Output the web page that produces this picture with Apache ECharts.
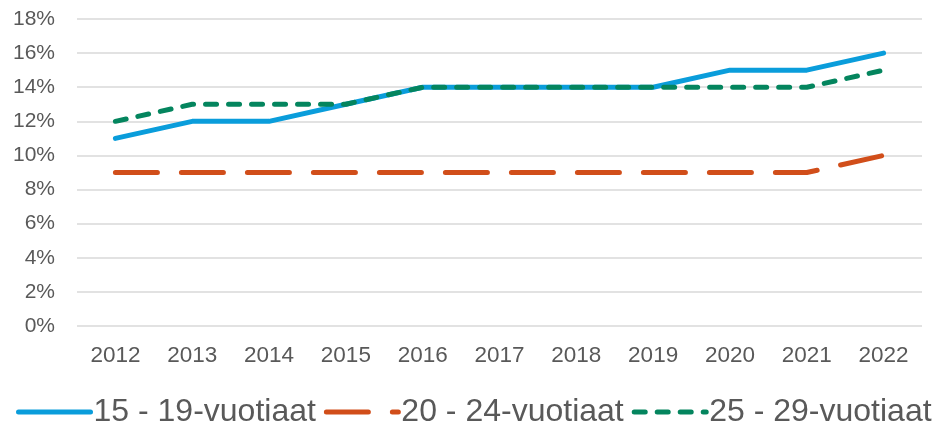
<!DOCTYPE html>
<html>
<head>
<meta charset="utf-8">
<script src="https://cdn.jsdelivr.net/npm/echarts@6/dist/echarts.min.js"></script>
<style>
    html, body { margin: 0; padding: 0; background: #fff; }
    #main { width: 936px; height: 426px; }
</style>
</head>
<body>
<div id="main"></div>
<script>
// vuodet ja arvot (%)
var years = ['2012', '2013', '2014', '2015', '2016', '2017', '2018', '2019', '2020', '2021', '2022'];
var names = ['15 - 19-vuotiaat', '20 - 24-vuotiaat', '25 - 29-vuotiaat'];
var age15_19 = [11, 12, 12, 13, 14, 14, 14, 14, 15, 15, 16];
var age20_24 = [9, 9, 9, 9, 9, 9, 9, 9, 9, 9, 10];
var age25_29 = [12, 13, 13, 13, 14, 14, 14, 14, 14, 14, 15];
var yTicks = { min: 0, max: 18, step: 2 };

var chart = echarts.init(document.getElementById('main'));
var option = {
    animation: false,
    textStyle: { fontFamily: 'Liberation Sans, Arial, sans-serif' },
    grid: { left: 77, right: 14, top: 19, bottom: 100 },
    legend: {
        left: 16,
        width: 920,
        bottom: -2,
        padding: 0,
        itemWidth: 72,
        itemHeight: 10,
        itemGap: 8,
        itemStyle: { opacity: 0 },
        lineStyle: { width: 5, cap: 'round' },
        textStyle: { fontSize: 32, color: '#595959', padding: [0, 0, 0, -2] },
        data: names
    },
    xAxis: {
        type: 'category',
        data: years,
        boundaryGap: true,
        axisLine: { show: false },
        axisTick: { show: false },
        axisLabel: { fontSize: 22.5, color: '#595959', margin: 18 }
    },
    yAxis: {
        type: 'value',
        min: yTicks.min,
        max: yTicks.max,
        interval: yTicks.step,
        axisLabel: { fontSize: 21, color: '#595959', margin: 22, formatter: '{value}%' },
        splitLine: { lineStyle: { color: '#d9d9d9', width: 1.5 } }
    },
    series: [{
        name: names[0],
        type: 'line',
        symbol: 'none',
        data: age15_19,
        color: '#0a9ddb',
        lineStyle: { width: 5, cap: 'round', color: '#0a9ddb' },
        z: 2
    }, {
        name: names[1],
        type: 'line',
        symbol: 'none',
        data: age20_24,
        color: '#d14e1a',
        lineStyle: { width: 5, cap: 'round', color: '#d14e1a', type: [42, 24] },
        z: 3
    }, {
        name: names[2],
        type: 'line',
        symbol: 'none',
        data: age25_29,
        color: '#04855e',
        lineStyle: { width: 5, cap: 'round', color: '#04855e', type: [11, 12] },
        z: 4
    }]
};
chart.setOption(option);
</script>
</body>
</html>
